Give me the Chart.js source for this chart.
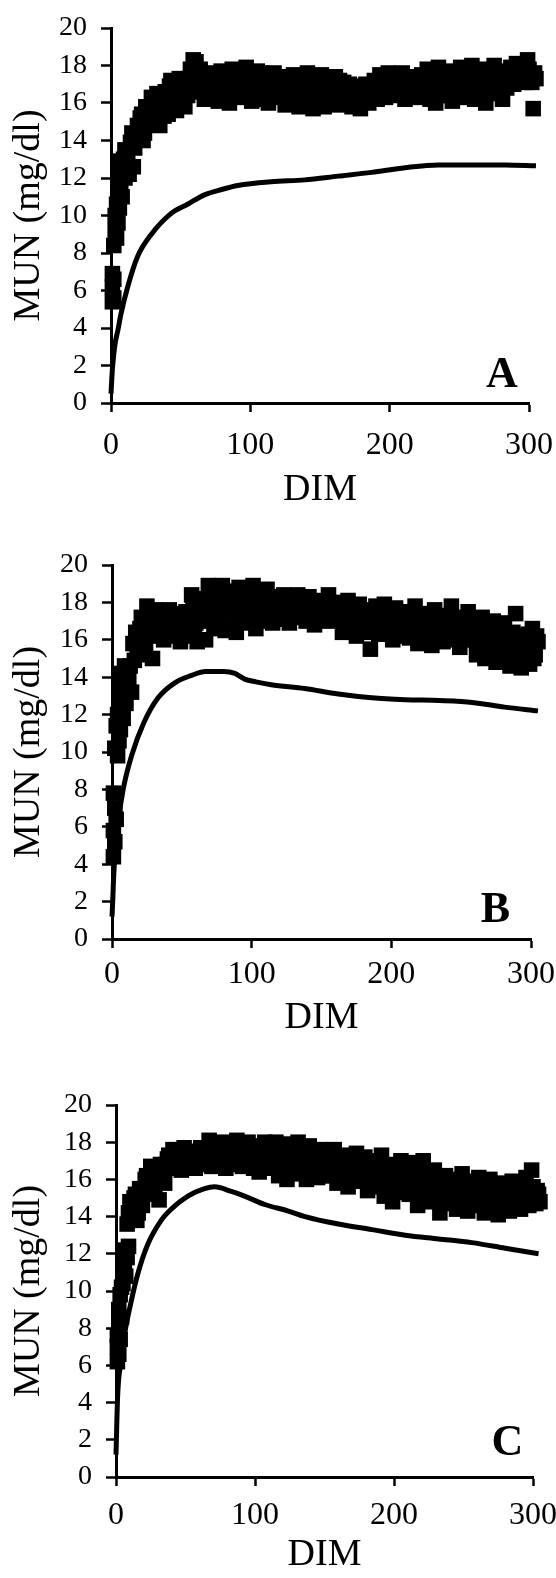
<!DOCTYPE html>
<html>
<head>
<meta charset="utf-8">
<script src="https://cdn.jsdelivr.net/npm/chart.js@4/dist/chart.umd.min.js"></script>
<style>
html,body{margin:0;padding:0;background:#fff;width:556px;height:1578px;overflow:hidden;}
canvas{position:absolute;left:0;}
</style>
</head>
<body>
<canvas id="cA" width="556" height="513" style="top:0px"></canvas>
<canvas id="cB" width="556" height="504" style="top:537px"></canvas>
<canvas id="cC" width="556" height="501" style="top:1077px"></canvas>
<script>
// ---------- axis ticks ----------
const yTickValues = [0,2,4,6,8,10,12,14,16,18,20];
const xTickValues = [0,100,200,300];
const panelLetters = ['A','B','C'];

// ---------- observed MUN (squares) ----------
const earlyDim = [1,1,1,2,2,2,3,3,4,4,5,5,6,6,7,7,8,8,9,9,10,10];
const oddDim = [];
for (let d = 11; d <= 305; d += 2) oddDim.push(d);
const evenDim = [];
for (let d = 12; d <= 304; d += 2) evenDim.push(d);

const obsEarlyA = [5.4,6.2,6.9,5.6,6.6,8.4,9.2,10.0,10.6,8.8,11.4,9.6,12.6,10.4,11.8,12.9,12.2,11.0,13.0,12.4,13.5,12.0];
const obsOddA = [
 13.2,12.2,14.4,13.6,14.8,
 15.2,14.0,15.8,
 15.0,16.3,15.4,16.5,14.8,16.0,
 16.6,15.4,17.2,16.0,15.6,17.3,16.4,15.8,
 16.4,17.8,18.3,18.2,16.6,17.2,16.2,
 17.0,16.2,17.6,16.8,16.1,17.7,16.5,17.2,16.0,17.8,16.6,17.4,
 16.3,17.6,17.9,16.8,16.1,17.2,17.7,16.4,16.9,17.5,16.0,17.0,17.6,16.3,16.8,17.3,15.9,17.1,16.5,17.5,
 16.9,15.8,17.4,16.2,17.6,16.6,15.7,17.0,16.4,17.5,15.8,16.8,17.3,16.1,17.4,15.9,16.7,17.1,
 16.2,17.0,15.8,16.6,16.9,15.7,16.4,17.0,16.0,16.8,
 17.2,16.2,17.5,16.7,16.3,17.6,16.9,16.4,17.3,16.6,17.6,16.2,17.0,16.5,17.4,16.8,16.3,17.5,
 16.9,17.8,16.2,17.4,16.0,17.9,16.7,17.2,16.4,17.7,16.1,17.5,16.8,17.9,16.3,17.1,16.6,18.0,16.2,17.4,16.9,17.8,16.0,17.3,16.5,18.0,16.8,17.6,16.2,17.7,
 17.2,17.9,17.0,18.1,17.4,17.8,17.1,18.3,17.5,15.7,17.3
];
const obsEvenA = [
 12.8,13.9,12.6,14.1,
 14.6,15.4,14.4,15.0,
 15.8,14.9,16.0,15.6,16.2,15.3,
 16.2,16.9,15.7,16.6,17.0,16.0,16.8,17.2,
 17.3,16.8,17.6,17.0,17.8,16.6,17.4,
 16.6,17.3,16.4,17.1,16.9,16.3,17.5,16.7,17.0,16.4,17.2,16.8,
 17.0,16.5,16.9,17.3,16.7,16.6,17.1,17.6,16.2,16.5,17.3,16.6,16.9,17.1,16.4,16.9,17.4,16.6,17.0,16.7,
 16.4,16.8,16.6,17.1,16.0,16.9,16.4,16.2,17.0,16.6,16.5,17.1,16.3,16.8,16.5,17.2,16.2,16.5,
 16.5,16.1,16.7,16.3,16.0,16.6,16.8,16.3,16.5,16.9,
 16.7,17.0,16.5,17.2,16.9,16.5,17.1,16.8,16.6,17.1,16.9,16.7,16.4,17.2,16.6,17.0,16.9,16.6,
 16.5,17.1,16.8,16.6,17.3,16.4,17.0,16.9,17.3,16.6,17.0,16.9,16.4,16.6,17.5,16.8,17.2,16.6,17.0,16.7,17.2,16.5,17.4,16.9,17.1,16.6,17.3,16.9,17.4,16.8,
 17.6,17.4,17.7,17.5,17.2,18.0,17.6,17.8,17.1,17.6
];

const obsEarlyB = [4.4,5.8,7.8,5.2,7.0,10.2,6.4,11.4,9.8,12.0,10.6,12.3,11.2,13.6,14.2,12.8,13.4,11.8,14.6,13.0,14.0,12.6];
const obsOddB = [
 13.4,14.6,15.8,16.4,15.2,
 17.2,15.4,17.8,16.2,15.0,17.6,
 16.4,17.5,16.0,17.0,17.6,16.3,16.9,17.4,15.9,16.7,17.5,16.2,
 18.4,16.6,15.9,18.2,17.0,16.0,
 18.9,17.2,16.6,18.4,17.8,18.9,16.5,17.6,18.6,17.0,16.4,18.8,17.9,16.9,18.5,17.3,18.9,16.6,17.8,18.2,17.0,18.7,17.4,16.9,
 18.3,17.1,17.8,18.4,17.3,16.9,18.0,17.6,18.4,17.2,17.9,17.0,18.3,17.5,16.8,18.1,17.4,17.9,17.0,18.4,17.6,17.1,18.0,
 17.8,16.4,17.2,18.1,16.8,17.5,16.2,17.9,17.0,16.5,17.6,15.5,16.9,17.8,16.3,17.3,17.9,16.6,17.1,16.0,17.7,16.8,17.4,16.2,
 17.5,16.1,16.8,17.8,15.8,16.6,17.4,16.2,17.0,15.7,17.6,16.4,16.9,15.9,17.3,16.5,17.8,16.0,16.7,15.6,17.2,16.3,17.5,16.1,
 16.8,15.2,16.2,17.2,15.0,16.5,15.6,17.0,14.8,16.0,15.4,16.9,15.1,14.6,16.4,17.4,15.3,14.5,16.1,15.8,14.7,16.6,15.2,15.9
];
const obsEvenB = [
 14.0,13.2,14.9,15.6,
 16.6,16.8,15.8,17.0,16.4,16.8,
 17.0,16.6,16.8,17.3,16.2,17.1,16.5,16.9,17.2,16.4,17.0,16.8,
 17.4,17.8,16.9,17.3,18.0,17.6,
 17.6,18.1,17.9,17.3,16.9,17.6,18.2,17.9,17.4,18.1,17.7,17.2,18.3,17.6,18.0,17.7,17.4,18.2,17.3,17.6,18.1,17.8,18.2,17.5,
 17.6,17.9,17.4,17.7,18.0,17.6,17.3,17.8,17.5,17.7,17.3,17.7,17.6,18.0,17.5,17.4,17.7,17.2,17.5,17.8,17.3,17.6,17.9,17.4,
 17.0,17.5,16.7,16.6,17.3,16.9,17.1,16.8,17.5,17.2,16.9,16.4,17.4,16.8,17.1,16.6,17.0,17.3,16.5,17.0,16.8,17.3,16.6,17.0,
 16.6,17.0,16.4,16.9,17.2,16.5,16.8,16.9,16.4,17.1,16.7,16.2,17.0,16.6,16.3,16.9,17.0,16.4,16.2,16.8,16.6,16.0,16.7,16.5,
 16.0,16.6,15.6,15.8,16.2,15.9,16.3,15.5,15.9,16.5,16.0,15.7,15.6,16.0,15.8,16.2,15.8,15.5,15.2,16.3,15.5,15.0,16.2
];

const obsEarlyC = [6.2,7.0,7.6,6.6,8.2,9.0,7.4,9.8,10.2,8.6,11.0,10.4,12.0,11.4,12.2,10.8,13.6,11.8,14.2,12.4,14.8,13.8];
const obsOddC = [
 14.4,15.0,13.8,15.5,14.6,
 16.0,15.2,16.7,15.6,16.4,14.9,16.6,15.8,
 17.1,16.6,17.6,16.9,17.3,16.5,17.7,17.0,16.7,17.5,16.6,17.2,17.7,16.8,
 17.4,18.1,16.7,17.8,16.9,17.5,18.0,16.6,17.2,17.9,16.8,18.1,17.3,16.7,17.7,18.0,17.1,16.6,
 17.8,16.4,17.2,18.0,16.6,17.5,16.9,18.0,16.2,17.4,17.9,16.0,17.0,17.7,16.3,18.0,16.8,17.3,16.0,17.8,16.5,17.1,16.1,17.6,
 17.5,16.2,17.1,16.6,17.6,15.8,16.9,17.3,16.1,15.6,17.0,16.5,17.4,15.9,16.7,17.2,15.4,16.3,17.0,15.9,16.6,17.3,15.1,16.2,16.8,14.8,15.8,16.5,17.0,15.3,
 16.6,15.2,16.9,15.8,14.6,16.3,17.0,15.5,16.0,14.8,16.5,15.6,
 14.2,15.6,16.2,14.9,15.4,16.0,14.4,15.1,16.3,15.7,14.3,15.0,15.9,14.6,16.1,15.2,14.2,15.5,16.0,14.8,15.3,14.1,15.8,14.5,
 15.4,14.3,15.9,14.8,15.2,14.4,15.6,16.1,14.6,16.5,15.0,15.4,14.8
];
const obsEvenC = [
 13.9,15.2,14.2,15.0,
 15.5,16.2,15.9,16.5,15.4,16.1,16.8,16.3,
 16.8,17.3,17.0,16.6,17.4,17.1,16.8,17.3,17.0,17.4,16.9,17.5,17.1,17.3,
 17.1,16.9,17.5,17.2,17.7,17.0,17.3,17.6,17.0,17.5,17.4,17.0,17.6,17.4,17.1,17.3,17.6,17.2,
 17.0,17.5,16.9,17.3,17.1,16.8,17.4,17.1,17.7,16.8,17.2,17.5,16.6,17.1,17.4,16.7,17.2,17.6,16.9,17.2,16.8,17.4,16.7,17.0,
 16.9,16.7,17.3,16.2,16.9,16.5,17.2,16.4,16.8,16.9,16.2,16.8,16.4,16.6,16.3,16.9,16.0,16.7,16.4,16.2,16.8,15.6,16.5,15.9,16.4,15.5,16.2,15.9,15.6,16.2,
 15.9,16.3,15.6,16.5,15.4,15.9,16.2,15.1,16.4,15.8,15.2,16.1,
 15.4,15.0,15.7,15.3,15.9,14.7,15.5,15.8,14.9,15.4,15.6,14.8,15.3,15.7,14.6,15.0,15.6,14.9,15.2,15.7,14.5,15.1,14.8,15.3,
 14.9,15.6,15.0,15.4,14.6,15.1,15.8,14.9,15.3,15.0,15.6,14.7,15.2
];

// ---------- fitted model curves ----------
const fitDimA = [0,0.5,1,2,3,5,7,12,19,29,43,55,67,80,91,115,139,163,187,211,235,259,283,305];
const fitMunA = [0.5,1.2,1.8,2.6,3.2,3.9,4.7,6.2,7.8,9.0,10.1,10.6,11.1,11.4,11.6,11.8,11.9,12.1,12.3,12.55,12.7,12.7,12.7,12.65];

const fitDimB = [0,0.5,1,2,4,8,14,23,33,45,57,67,80,88,95,103,114,138,162,186,210,234,258,281,305];
const fitMunB = [1.2,2.0,3.0,4.4,6.0,8.0,9.8,11.6,12.9,13.7,14.1,14.3,14.3,14.2,13.9,13.75,13.6,13.4,13.1,12.9,12.8,12.75,12.65,12.4,12.2];

const fitDimC = [0,1.2,3.6,6,10.8,15.6,22.8,32.5,39.7,51.7,63.7,70.9,83,92.5,107,124,136,160,184,208,232,256,280,304];
const fitMunC = [1.2,4.4,6.2,7.6,9.4,10.9,12.5,13.8,14.4,15.1,15.5,15.6,15.35,15.1,14.65,14.3,14.0,13.6,13.3,13.0,12.8,12.6,12.3,12.0];

// ---------- layout per panel (pixels) ----------
const panels = [
  {id:'cA', letter:panelLetters[0], obs:[obsOddA,obsEvenA,obsEarlyA], fitDim:fitDimA, fitMun:fitMunA,
   yW:111, padR:27, xH:110, lblPad:18, letterX:292, letterY:0.85},
  {id:'cB', letter:panelLetters[1], obs:[obsOddB,obsEvenB,obsEarlyB], fitDim:fitDimB, fitMun:fitMunB,
   yW:112, padR:25, xH:102, lblPad:11, letterX:285, letterY:0.9},
  {id:'cC', letter:panelLetters[2], obs:[obsOddC,obsEvenC,obsEarlyC], fitDim:fitDimC, fitMun:fitMunC,
   yW:116, padR:23, xH:101, lblPad:14, letterX:293, letterY:1.2}
];

const SERIF = '"Liberation Serif","Times New Roman",serif';

const letterPlugin = {
  id: 'panelLetter',
  afterDatasetsDraw(chart, args, opts) {
    const ctx = chart.ctx;
    const xs = chart.scales.x, ys = chart.scales.y;
    ctx.save();
    ctx.fillStyle = '#000';
    ctx.font = 'bold 44px ' + SERIF;
    ctx.textAlign = 'right';
    ctx.textBaseline = 'alphabetic';
    ctx.fillText(opts.text, xs.getPixelForValue(opts.x), ys.getPixelForValue(opts.y));
    ctx.restore();
  }
};

panels.forEach(p => {
  const dims = [oddDim, evenDim, earlyDim];
  let pts = [];
  dims.forEach((dl, k) => {
    pts = pts.concat(dl.map((d, i) => ({x: d, y: p.obs[k][i]})));
  });
  const fit = p.fitDim.map((d, i) => ({x: d, y: p.fitMun[i]}));
  new Chart(document.getElementById(p.id), {
    type: 'scatter',
    data: {
      datasets: [
        {data: pts, pointStyle: 'rect', pointRadius: 11, pointHoverRadius: 11,
         backgroundColor: '#000', borderWidth: 0, showLine: false, clip: false},
        {data: fit, showLine: true, borderColor: '#000', borderWidth: 5,
         pointRadius: 0, cubicInterpolationMode: 'monotone', fill: false, clip: false}
      ]
    },
    plugins: [letterPlugin],
    options: {
      responsive: false,
      animation: false,
      events: [],
      layout: {padding: {top: 28, left: 0, right: p.padR, bottom: 0}},
      plugins: {
        legend: {display: false},
        tooltip: {enabled: false},
        panelLetter: {text: p.letter, x: p.letterX, y: p.letterY}
      },
      scales: {
        x: {
          type: 'linear', min: 0, max: 300,
          afterBuildTicks: s => { s.ticks = xTickValues.map(v => ({value: v})); },
          afterFit: s => { s.height = p.xH; s.paddingLeft = 0; s.paddingRight = 0; },
          ticks: {color: '#000', padding: p.lblPad, font: {family: SERIF, size: 32, lineHeight: 1}, maxRotation: 0},
          grid: {drawOnChartArea: false, drawTicks: true, tickLength: 9, tickWidth: 2.5, tickColor: '#000', color: '#000'},
          border: {display: true, color: '#000', width: 3},
          title: {display: true, text: 'DIM', color: '#000', font: {family: SERIF, size: 38, lineHeight: 1}, padding: {top: 0, bottom: 4}}
        },
        y: {
          type: 'linear', min: 0, max: 20,
          afterBuildTicks: s => { s.ticks = yTickValues.map(v => ({value: v})); },
          afterFit: s => { s.width = p.yW; s.paddingTop = 0; s.paddingBottom = 0; },
          ticks: {color: '#000', padding: 14, font: {family: SERIF, size: 28, lineHeight: 1}},
          grid: {drawOnChartArea: false, drawTicks: true, tickLength: 10, tickWidth: 2.5, tickColor: '#000', color: '#000'},
          border: {display: true, color: '#000', width: 3},
          title: {display: true, text: 'MUN (mg/dl)', color: '#000', font: {family: SERIF, size: 38, lineHeight: 1}, padding: {top: 10, bottom: 0}}
        }
      }
    }
  });
});
</script>
</body>
</html>
